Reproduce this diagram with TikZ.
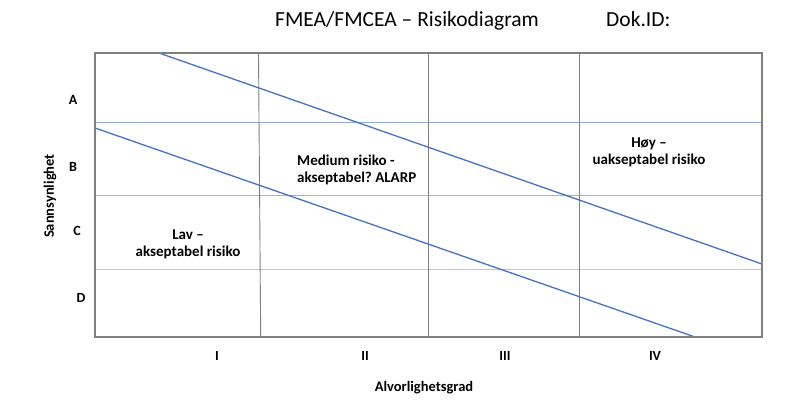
\documentclass[tikz,border=0pt]{standalone}
\usepackage{fontspec}
\setmainfont{Carlito}
\frenchspacing
\begin{document}
\begin{tikzpicture}[x=1pt,y=-1pt,
  frame/.style={draw=black!50, line width=1.6pt},
  vline/.style={draw=black!50, line width=0.9pt},
  hline/.style={draw=#1, line width=0.9pt},
  riskline/.style={draw=blue4472, line width=1.3pt},
  lbl/.style={font=\bfseries\fontsize{14}{17}\selectfont, inner sep=0pt},
  axlbl/.style={font=\bfseries\fontsize{14.5}{17}\selectfont, inner sep=0pt},
  area/.style={font=\bfseries\fontsize{15}{16.8}\selectfont, inner sep=0pt, align=center},
  ttl/.style={font=\fontsize{21.5}{25}\selectfont, inner sep=0pt, anchor=base west}]
\definecolor{blue4472}{HTML}{4472C4}
\definecolor{hlA}{HTML}{8FAADC}
\definecolor{hlB}{HTML}{A6B4CC}
\definecolor{hlC}{HTML}{B4C7E7}
\useasboundingbox (0,0) rectangle (800,399);
% title
\node[ttl] (title) at (275,26) {FMEA/FMCEA – Risikodiagram};
\node[ttl] (dok) at (606,26) {Dok.ID:};
% frame corners
\coordinate (tl) at (95,53);
\coordinate (br) at (762,337);
% horizontal lines
\coordinate (h1l) at (95,122.5); \coordinate (h1r) at (762,122.5);
\coordinate (h2l) at (95,195.3); \coordinate (h2r) at (762,195.3);
\coordinate (h3l) at (95,269.5); \coordinate (h3r) at (762,269.5);
\draw[hline=hlA] (h1l) -- (h1r);
\draw[hline=hlB] (h2l) -- (h2r);
\draw[hline=hlC] (h3l) -- (h3r);
% vertical lines
\coordinate (v1t) at (258.5,53); \coordinate (v1b) at (260.7,337);
\coordinate (v2t) at (428.7,53); \coordinate (v2b) at (428.7,337);
\coordinate (v3t) at (579,53); \coordinate (v3b) at (579,337);
\draw[vline] (v1t) -- (v1b);
\draw[vline] (v2t) -- (v2b);
\draw[vline] (v3t) -- (v3b);
% risk lines
\coordinate (r1a) at (159,53); \coordinate (r1b) at (762,264);
\coordinate (r2a) at (95,128); \coordinate (r2b) at (695,337);
\draw[riskline] (r1a) -- (r1b);
\draw[riskline] (r2a) -- (r2b);
% frame
\draw[frame] (tl) rectangle (br);
% area labels
\node[area, align=left, anchor=west] (med) at (297,170) {Medium risiko -\\akseptabel? ALARP};
\node[area] (hoy) at (649,152) {Høy –\\uakseptabel risiko};
\node[area] (lav) at (188,244) {Lav –\\akseptabel risiko};
% y axis
\node[axlbl] (ylab) at (50,196) [rotate=90] {Sannsynlighet};
\node[lbl] (A) at (73,100) {A};
\node[lbl] (B) at (73,167) {B};
\node[lbl] (C) at (77,231) {C};
\node[lbl] (D) at (81,298) {D};
% x axis
\node[lbl] (I) at (217,356) {I};
\node[lbl] (II) at (365,356) {II};
\node[lbl] (III) at (505,356) {III};
\node[lbl] (IV) at (655,356) {IV};
\node[axlbl] (xlab) at (424,388) {Alvorlighetsgrad};
\end{tikzpicture}
\end{document}
